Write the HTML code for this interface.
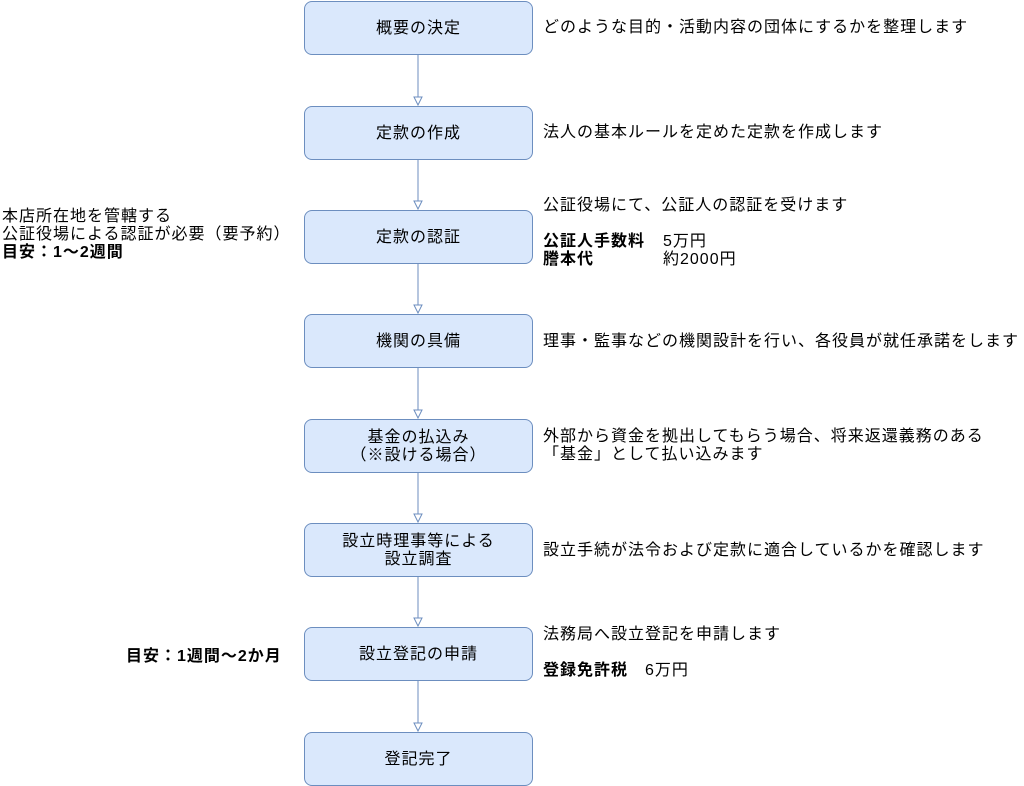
<!DOCTYPE html>
<html><head><meta charset="utf-8"><style>
body{margin:0;width:1024px;height:785px;background:#fff;position:relative;overflow:hidden;font-family:"Liberation Sans","Noto Sans CJK JP",sans-serif;font-size:16px;letter-spacing:1px;color:#000}
.b{position:absolute;left:304px;width:227px;height:52px;background:#dae8fc;border:1px solid #6c8ebf;border-radius:8px;display:flex;align-items:center;justify-content:center;text-align:center;line-height:18px;padding-top:2px;box-sizing:content-box;height:50px}
.t{position:absolute;left:543px;line-height:18px;white-space:nowrap}
b{font-weight:bold}
.v{position:absolute;left:120px}
</style></head><body>
<svg width="1024" height="785" style="position:absolute;left:0;top:0">
<g stroke="#6c8ebf" fill="#fff">
<line x1="418" y1="54" x2="418" y2="98"/><path d="M414 97 L418 105 L422 97Z"/>
<line x1="418" y1="159" x2="418" y2="202"/><path d="M414 201 L418 209 L422 201Z"/>
<line x1="418" y1="263" x2="418" y2="306"/><path d="M414 305 L418 313 L422 305Z"/>
<line x1="418" y1="367" x2="418" y2="411"/><path d="M414 410 L418 418 L422 410Z"/>
<line x1="418" y1="472" x2="418" y2="515"/><path d="M414 514 L418 522 L422 514Z"/>
<line x1="418" y1="576" x2="418" y2="619"/><path d="M414 618 L418 626 L422 618Z"/>
<line x1="418" y1="680" x2="418" y2="724"/><path d="M414 723 L418 731 L422 723Z"/>
</g></svg>
<div class="b" style="top:1px">概要の決定</div>
<div class="b" style="top:106px">定款の作成</div>
<div class="b" style="top:210px">定款の認証</div>
<div class="b" style="top:314px">機関の具備</div>
<div class="b" style="top:419px">基金の払込み<br>（※設ける場合）</div>
<div class="b" style="top:523px">設立時理事等による<br>設立調査</div>
<div class="b" style="top:627px">設立登記の申請</div>
<div class="b" style="top:732px">登記完了</div>
<div class="t" style="top:19px">どのような目的・活動内容の団体にするかを整理します</div>
<div class="t" style="top:124px">法人の基本ルールを定めた定款を作成します</div>
<div class="t" style="top:197px">公証役場にて、公証人の認証を受けます<br><br><b>公証人手数料</b><span class="v">5万円</span><br><b>謄本代</b><span class="v">約2000円</span></div>
<div class="t" style="top:333px">理事・監事などの機関設計を行い、各役員が就任承諾をします</div>
<div class="t" style="top:428px">外部から資金を拠出してもらう場合、将来返還義務のある<br>「基金」として払い込みます</div>
<div class="t" style="top:542px">設立手続が法令および定款に適合しているかを確認します</div>
<div class="t" style="top:626px">法務局へ設立登記を申請します<br><br><b>登録免許税</b><span style="position:absolute;left:102px">6万円</span></div>
<div class="t" style="left:2px;top:208px">本店所在地を管轄する<br>公証役場による認証が必要（要予約）<br><b>目安：1〜2週間</b></div>
<div class="t" style="left:126px;top:648px"><b>目安：1週間〜2か月</b></div>
</body></html>
